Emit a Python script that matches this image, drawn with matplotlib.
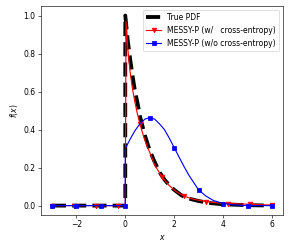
import matplotlib
matplotlib.use("Agg")
import matplotlib.pyplot as plt

# True PDF readings
true_x = [-3.0, -2.0, -1.0, 0.0, 0.0, 0.1, 0.2, 0.3, 0.4, 0.5, 0.6, 0.7, 0.8, 0.9, 1.0,
          1.2, 1.4, 1.6, 1.8, 2.0, 2.3, 2.6, 3.0, 3.5, 4.0, 5.0, 6.0]
true_y = [0.0, 0.0, 0.0, 0.0, 1.0, 0.87, 0.77, 0.68, 0.60, 0.54, 0.47, 0.42, 0.37, 0.33, 0.29,
          0.23, 0.176, 0.137, 0.107, 0.083, 0.054, 0.037, 0.024, 0.013, 0.007, 0.002, 0.0005]

# MESSY-P with cross-entropy
red_x = [-3.0, -2.1, -1.2, -0.3, 0.0, 0.03, 0.1, 0.2, 0.3, 0.4, 0.5, 0.6, 0.7, 0.8, 0.9, 1.0,
         1.2, 1.5, 1.8, 2.1, 2.4, 2.8, 3.3, 3.7, 4.2, 4.6, 5.1, 5.5, 6.0]
red_y = [0.0, 0.0, 0.0, 0.0, 0.0, 0.97, 0.83, 0.70, 0.61, 0.54, 0.48, 0.43, 0.385, 0.345, 0.31, 0.28,
         0.215, 0.15, 0.105, 0.072, 0.05, 0.033, 0.021, 0.015, 0.011, 0.009, 0.007, 0.005, 0.003]
red_marker_x = [-3.0, -2.1, -1.2, -0.3, 0.6, 1.5, 2.4, 3.3, 4.2, 5.1, 6.0]

# MESSY-P without cross-entropy
blue_x = [-3.0, -2.0, -1.0, 0.0, 0.0, 0.2, 0.4, 0.6, 0.8, 1.0, 1.2, 1.4, 1.6, 1.8, 2.0,
          2.2, 2.4, 2.6, 2.8, 3.0, 3.3, 3.6, 4.0, 4.5, 5.0, 5.5, 6.0]
blue_y = [0.0, 0.0, 0.0, 0.0, 0.30, 0.35, 0.395, 0.43, 0.455, 0.463, 0.455, 0.43, 0.40, 0.355, 0.305,
          0.255, 0.206, 0.16, 0.121, 0.082, 0.05, 0.027, 0.011, 0.003, 0.0, 0.0, 0.0]
blue_marker_x = [-3.0, -2.0, -1.0, 0.0, 1.0, 2.0, 3.0, 4.0, 5.0, 6.0]

labels = ["True PDF", "MESSY-P (w/   cross-entropy)", "MESSY-P (w/o cross-entropy)"]


def mark_idx(xs, mx):
    idx = []
    used = set()
    for m in mx:
        for i, x in enumerate(xs):
            if abs(x - m) < 1e-9 and m not in used:
                idx.append(i)
                used.add(m)
                break
    return idx


DPI = 55
fig = plt.figure(figsize=(290 / DPI, 251 / DPI), dpi=DPI)
ax = fig.add_axes([0.141, 0.143, 0.835, 0.833])

ax.plot(true_x, true_y, color="k", linestyle="--", linewidth=5, label=labels[0])
ax.plot(red_x, red_y, color="r", marker="v", markevery=mark_idx(red_x, red_marker_x),
        label=labels[1])
ax.plot(blue_x, blue_y, color="b", marker="s", markevery=mark_idx(blue_x, blue_marker_x),
        label=labels[2])

ax.set_xlabel("$x$")
ax.set_ylabel("$f(x)$")
ax.legend(loc="upper right")

fig.savefig("out.png", dpi=DPI)
